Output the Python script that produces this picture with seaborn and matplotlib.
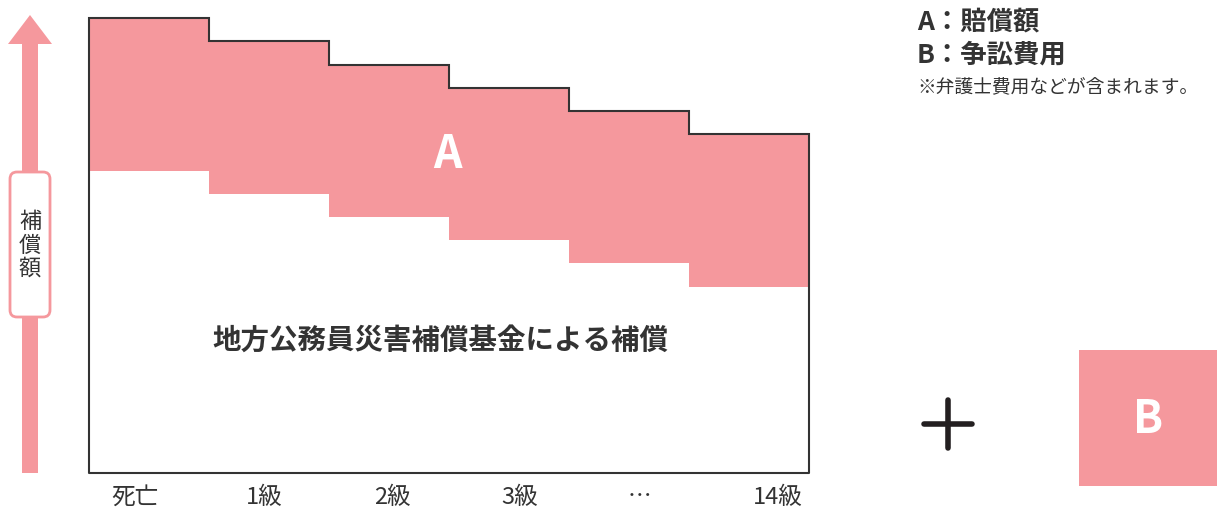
import matplotlib
matplotlib.use("Agg")
import matplotlib.pyplot as plt
import seaborn as sns
import numpy as np
import pandas as pd
from matplotlib.patches import FancyBboxPatch, Polygon, Rectangle
from matplotlib.lines import Line2D

# ---- data ----
categories = ["死亡", "1級", "2級", "3級", "…", "14級"]
total_comp = [455, 432, 408, 385, 362, 339]     # top of pink area (A + fund)
fund_comp = [302, 279, 256, 233, 210, 186]      # 地方公務員災害補償基金による補償
legend_lines = ["A：賠償額", "B：争訟費用"]
legend_note = "※弁護士費用などが含まれます。"
fund_label = "地方公務員災害補償基金による補償"
axis_label = "補\n償\n額"

PINK = "#F5989D"
DARK = "#333333"

sns.set_theme(style="white")
plt.rcParams['font.family'] = ['Noto Sans CJK JP', 'DejaVu Sans']

W, H = 1217, 514
fig = plt.figure(figsize=(W / 100, H / 100), dpi=100)
fig.patch.set_facecolor("white")

# main axes: x 89..809, y 18..473 (pixels)
ax = fig.add_axes([89 / W, (H - 473) / H, 720 / W, 455 / H])
df = pd.DataFrame({"cat": categories, "total": total_comp, "fund": fund_comp})
sns.barplot(data=df, x="cat", y="total", color=PINK, saturation=1, width=1.0,
            linewidth=0, edgecolor=PINK, ax=ax)
sns.barplot(data=df, x="cat", y="fund", color="white", saturation=1, width=1.0,
            linewidth=0, edgecolor="white", ax=ax)
edges = np.arange(len(categories) + 1) - 0.5
ax.stairs(total_comp, edges, baseline=0, fill=False, color=DARK, lw=1.5, clip_on=False, zorder=5)
ax.plot([edges[0], edges[-1]], [0, 0], color=DARK, lw=1.5, clip_on=False, zorder=5)
ax.set_xlim(edges[0], edges[-1])
ax.set_ylim(0, 455)
for s in ax.spines.values():
    s.set_visible(False)
ax.set_yticks([])
ax.set_xlabel("")
ax.set_ylabel("")
ax.set_xticks([-0.12, 0.96, 2.03, 3.09, 4.09, 5.24])
ax.set_xticklabels(categories, fontsize=17, color=DARK)
ax.tick_params(axis="x", length=0, pad=9)

# A label and fund label
ax.text(2.49, 318, "A", color="white",
        fontsize=32, fontweight="bold", ha="center", va="center", zorder=6)
ax.text(2.43, 132, fund_label, color=DARK, fontsize=20.5,
        fontweight="bold", ha="center", va="center", zorder=6)

# overlay in pixel coordinates
ov = fig.add_axes([0, 0, 1, 1])
ov.set_xlim(0, W)
ov.set_ylim(H, 0)
ov.axis("off")

# arrow
ov.add_patch(Polygon([[22, 473], [38, 473], [38, 44], [52, 44], [30, 15], [8, 44], [22, 44]],
                     closed=True, facecolor=PINK, edgecolor="none"))
ov.add_patch(FancyBboxPatch((10, 172), 40, 145, boxstyle="round,pad=0,rounding_size=7",
                            facecolor="white", edgecolor=PINK, lw=2))
ov.text(30, 245, axis_label, fontsize=16, color=DARK, ha="center", va="center",
        linespacing=1.0)

# legend texts
ov.text(917, 22, legend_lines[0], fontsize=19, fontweight="bold", color=DARK, ha="left", va="center")
ov.text(917, 55, legend_lines[1], fontsize=19, fontweight="bold", color=DARK, ha="left", va="center")
ov.text(917, 88, legend_note, fontsize=13.5, color=DARK, ha="left", va="center")

# plus sign
ov.add_line(Line2D([924, 972], [424, 424], color="#231F20", lw=4))
ov.add_line(Line2D([948, 948], [400, 448], color="#231F20", lw=4))

# B box
ov.add_patch(Rectangle((1079, 350), 138, 136, facecolor=PINK, edgecolor="none"))
ov.text(1148, 420, "B", color="white", fontsize=32, fontweight="bold", ha="center", va="center")

fig.savefig("out.png", dpi=100, facecolor="white")
